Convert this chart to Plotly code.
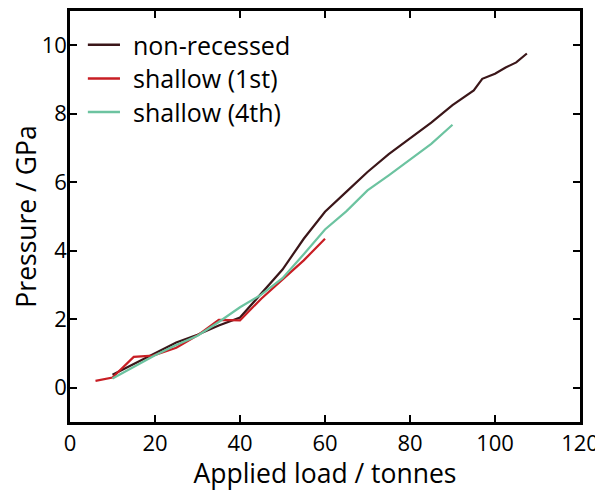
import plotly.graph_objects as go

# data
nr_x = [10, 15, 20, 25, 30, 35, 40, 45, 50, 55, 60, 65, 70, 75, 80, 85, 90, 95, 97, 100, 102.5, 105, 107.5]
nr_y = [0.38, 0.7, 1.0, 1.32, 1.55, 1.82, 2.05, 2.75, 3.45, 4.35, 5.14, 5.72, 6.3, 6.82, 7.28, 7.74, 8.25, 8.68, 9.02, 9.17, 9.35, 9.5, 9.76]

s1_x = [6, 10, 15, 19.5, 25, 30.5, 35, 40, 45, 50, 55, 60]
s1_y = [0.2, 0.3, 0.9, 0.94, 1.17, 1.57, 1.98, 1.97, 2.6, 3.15, 3.72, 4.35]

s4_x = [10, 15, 20, 25, 30, 35, 40, 45, 50, 55, 60, 65, 70, 75, 80, 85, 90]
s4_y = [0.27, 0.62, 0.95, 1.25, 1.52, 1.92, 2.35, 2.72, 3.2, 3.9, 4.62, 5.15, 5.76, 6.2, 6.66, 7.12, 7.68]

series_names = ["non-recessed", "shallow (1st)", "shallow (4th)"]
series_colors = ["#3b1619", "#c81e24", "#6cc3a0"]

x_ticks = [0, 20, 40, 60, 80, 100, 120]
y_ticks = [0, 2, 4, 6, 8, 10]

FONT = "Open Sans"

fig = go.Figure()
for xs, ys, nm, col in zip([nr_x, s1_x, s4_x], [nr_y, s1_y, s4_y], series_names, series_colors):
    fig.add_trace(go.Scatter(x=xs, y=ys, mode="lines", name=nm,
                             line=dict(color=col, width=2.2), showlegend=False))

# legend drawn as line samples + text (paper coordinates)
leg_y = [0.918, 0.836, 0.754]
for nm, col, yy in zip(series_names, series_colors, leg_y):
    fig.add_shape(type="line", xref="paper", yref="paper", x0=0.035, x1=0.098, y0=yy, y1=yy,
                  line=dict(color=col, width=2.5))
    fig.add_annotation(xref="paper", yref="paper", x=0.120, y=yy, text=nm, showarrow=False,
                       xanchor="left", yanchor="middle",
                       font=dict(family=FONT, size=25, color="black"))

axis_common = dict(showline=True, linecolor="black", linewidth=2.5, mirror="ticks",
                   ticks="inside", ticklen=7, tickwidth=2, tickcolor="black",
                   showgrid=False, zeroline=False, automargin=False,
                   tickfont=dict(family=FONT, size=22, color="black"))

fig.update_xaxes(range=[0, 120], tickvals=x_ticks,
                 title=dict(text="Applied load / tonnes", font=dict(family=FONT, size=26.5, color="black"), standoff=8),
                 **axis_common)
fig.update_yaxes(range=[-1, 11], tickvals=y_ticks, ticklabelstandoff=-4,
                 title=dict(text="Pressure / GPa", font=dict(family=FONT, size=26.5, color="black"), standoff=15),
                 **axis_common)

# page body has an 8px margin, so the figure is sized to the remaining area
fig.update_layout(
    width=595, height=483,
    margin=dict(l=62, r=23, t=3, b=69),
    plot_bgcolor="white", paper_bgcolor="white",
    showlegend=False,
)

fig.write_html("out.html")
